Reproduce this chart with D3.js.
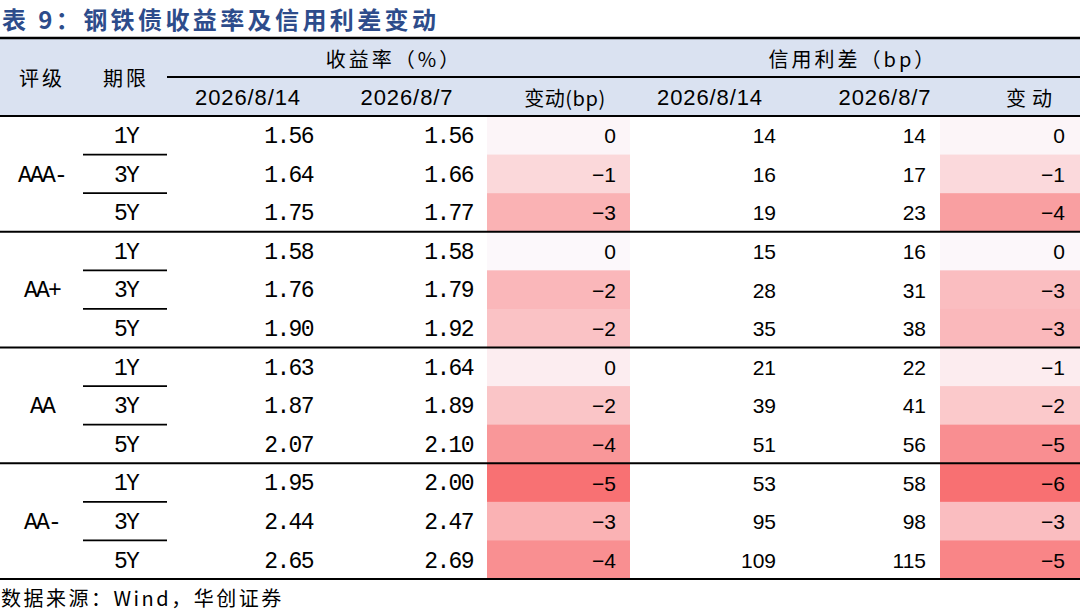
<!DOCTYPE html>
<html>
<head>
<meta charset="utf-8">
<script src="https://cdn.jsdelivr.net/npm/d3@7"></script>
<style>
  html, body { margin: 0; padding: 0; background: #ffffff; }
  svg { display: block; }
</style>
</head>
<body>
<svg id="chart" width="1080" height="612"></svg>
<script>
// ---------------- data ----------------
const title = "表 9：钢铁债收益率及信用利差变动";
const source = "数据来源：Wind，华创证券";
const ratings = ["AAA-", "AA+", "AA", "AA-"];
const tenors = ["1Y", "3Y", "5Y"];
const groupHeaders = ["收益率（%）", "信用利差（bp）"];
const colHeaders = ["2026/8/14", "2026/8/7", "变动(bp)", "2026/8/14", "2026/8/7", "变动"];
const yieldNow  = [1.56, 1.64, 1.75, 1.58, 1.76, 1.90, 1.63, 1.87, 2.07, 1.95, 2.44, 2.65];
const yieldPrev = [1.56, 1.66, 1.77, 1.58, 1.79, 1.92, 1.64, 1.89, 2.10, 2.00, 2.47, 2.69];
const yieldChg  = [0, -1, -3, 0, -2, -2, 0, -2, -4, -5, -3, -4];
// unrounded change estimated from the cell shading
const yieldChgRaw = [-0.1, -1.2, -2.6, 0.0, -2.4, -2.0, -0.4, -1.9, -3.6, -5.0, -2.6, -3.9];
const spreadNow  = [14, 16, 19, 15, 28, 35, 21, 39, 51, 53, 95, 109];
const spreadPrev = [14, 17, 23, 16, 31, 38, 22, 41, 56, 58, 98, 115];
const spreadChg  = [0, -1, -4, 0, -3, -3, -1, -2, -5, -6, -3, -5];
const spreadChgRaw = [-0.2, -1.4, -3.9, -0.1, -2.6, -2.8, -0.6, -2.1, -4.6, -5.9, -2.6, -5.0];

// ---------------- layout ----------------
const svg = d3.select("#chart");
const W = 1080;
const headTop = 38, headMid = 77, headBot = 116, bodyBot = 579;
const cjk = "'Noto Sans CJK SC', 'Noto Sans', sans-serif";
const mono = "'Liberation Mono', 'DejaVu Sans Mono', monospace";
const sans = "'Liberation Sans', Arial, sans-serif";

const rowIdx = d3.range(yieldNow.length);
const y = d3.scaleBand().domain(rowIdx).range([headBot, bodyBot]);
const yc = i => y(i) + y.bandwidth() / 2;

// column edges
const cols = {
  rating: [0, 83], tenor: [83, 167],
  yNow: [167, 327], yPrev: [327, 487], yChg: [487, 630],
  sNow: [630, 790], sPrev: [790, 940], sChg: [940, 1080]
};

const yColor = d3.scaleLinear().domain([d3.min(yieldChgRaw) - 0.3, d3.max(yieldChgRaw) + 0.15]).range(["#F8696B", "#FCFCFF"]);
const sColor = d3.scaleLinear().domain([d3.min(spreadChgRaw) - 0.3, d3.max(spreadChgRaw) + 0.2]).range(["#F8696B", "#FCFCFF"]);

// title
svg.append("text").attr("x", 2).attr("y", 29)
  .attr("font-family", cjk).attr("font-weight", "bold").attr("font-size", 24)
  .attr("letter-spacing", 3.4).attr("fill", "#2D4C8B").text(title);

// header background
svg.append("rect").attr("x", 0).attr("y", headTop).attr("width", W).attr("height", headBot - headTop)
  .attr("fill", "#DAE2F1");

// heatmap cells
const gCells = svg.append("g");
gCells.selectAll("rect.yc").data(rowIdx).join("rect").attr("class", "yc")
  .attr("x", cols.yChg[0]).attr("width", cols.yChg[1] - cols.yChg[0])
  .attr("y", i => y(i)).attr("height", y.bandwidth() + 0.5)
  .attr("fill", i => yColor(yieldChgRaw[i]));
gCells.selectAll("rect.sc").data(rowIdx).join("rect").attr("class", "sc")
  .attr("x", cols.sChg[0]).attr("width", cols.sChg[1] - cols.sChg[0])
  .attr("y", i => y(i)).attr("height", y.bandwidth() + 0.5)
  .attr("fill", i => sColor(spreadChgRaw[i]));

// header texts
const hdr = svg.append("g").attr("fill", "#000");
hdr.append("text").attr("x", 42).attr("y", (headTop + headBot) / 2).attr("text-anchor", "middle")
  .attr("dominant-baseline", "central").attr("font-family", cjk).attr("font-size", 20)
  .attr("letter-spacing", 3).text("评级");
hdr.append("text").attr("x", 126).attr("y", (headTop + headBot) / 2).attr("text-anchor", "middle")
  .attr("dominant-baseline", "central").attr("font-family", cjk).attr("font-size", 20)
  .attr("letter-spacing", 3).text("期限");
hdr.append("text").attr("x", 394).attr("y", (headTop + headMid) / 2 + 1).attr("text-anchor", "middle")
  .attr("dominant-baseline", "central").attr("font-family", cjk).attr("font-size", 20)
  .attr("letter-spacing", 3).text(groupHeaders[0]);
hdr.append("text").attr("x", 853).attr("y", (headTop + headMid) / 2 + 1).attr("text-anchor", "middle")
  .attr("dominant-baseline", "central").attr("font-family", cjk).attr("font-size", 20)
  .attr("letter-spacing", 3).text(groupHeaders[1]);
const hdrCenters = [248, 407, 565, 710, 885, 1032];
colHeaders.forEach((t, k) => {
  const isCjk = /[\u4e00-\u9fff]/.test(t);
  hdr.append("text").attr("x", hdrCenters[k]).attr("y", (headMid + headBot) / 2 + 1)
    .attr("text-anchor", "middle").attr("dominant-baseline", "central")
    .attr("font-family", isCjk ? cjk : sans).attr("font-size", isCjk ? 20 : 22)
    .attr("letter-spacing", isCjk ? (t === "变动" ? 6 : 0.5) : 0.9).text(t);
});

// body texts
const body = svg.append("g").attr("fill", "#000").attr("dominant-baseline", "central");
const monoDy = 1.8;
ratings.forEach((r, g) => {
  body.append("text").attr("x", 42).attr("y", yc(g * 3 + 1) + monoDy).attr("text-anchor", "middle")
    .attr("font-family", mono).attr("font-size", 23).attr("letter-spacing", -1.8).text(r);
});
rowIdx.forEach(i => {
  body.append("text").attr("x", 126).attr("y", yc(i) + monoDy).attr("text-anchor", "middle")
    .attr("font-family", mono).attr("font-size", 23).attr("letter-spacing", -1.8).text(tenors[i % 3]);
});
const f2 = d3.format(".2f");
const neg = v => (v < 0 ? "\u2212" + Math.abs(v) : String(v));
function rightCol(arr, col, fmt, font, size, ls, dy) {
  body.selectAll(null).data(rowIdx).join("text")
    .attr("x", col[1] - 14).attr("y", i => yc(i) + dy).attr("text-anchor", "end")
    .attr("font-family", font).attr("font-size", size).attr("letter-spacing", ls)
    .text(i => fmt(arr[i]));
}
rightCol(yieldNow, cols.yNow, f2, mono, 23, -1.6, monoDy);
rightCol(yieldPrev, cols.yPrev, f2, mono, 23, -1.6, monoDy);
rightCol(yieldChg, cols.yChg, neg, sans, 21, 0, 0.5);
rightCol(spreadNow, cols.sNow, String, sans, 21, 0, 0.5);
rightCol(spreadPrev, cols.sPrev, String, sans, 21, 0, 0.5);
rightCol(spreadChg, [0, cols.sChg[1] - 1], neg, sans, 21, 0, 0.5);

// lines
const lines = svg.append("g").attr("stroke", "#000");
lines.append("line").attr("x1", 0).attr("x2", W).attr("y1", headTop).attr("y2", headTop).attr("stroke-width", 2.5);
lines.append("line").attr("x1", cols.yNow[0]).attr("x2", W).attr("y1", headMid).attr("y2", headMid).attr("stroke-width", 1.8);
lines.append("line").attr("x1", 0).attr("x2", W).attr("y1", headBot).attr("y2", headBot).attr("stroke-width", 2);
d3.range(1, ratings.length + 1).forEach(g => {
  const yy = g === ratings.length ? bodyBot : y(g * 3);
  lines.append("line").attr("x1", 0).attr("x2", W).attr("y1", yy).attr("y2", yy).attr("stroke-width", 2.2);
});
rowIdx.filter(i => i % 3 !== 0).forEach(i => {
  lines.append("line").attr("x1", cols.tenor[0]).attr("x2", cols.tenor[1])
    .attr("y1", y(i)).attr("y2", y(i)).attr("stroke-width", 1.8);
});

// source
svg.append("text").attr("x", 1).attr("y", 597).attr("dominant-baseline", "central")
  .attr("font-family", cjk).attr("font-size", 20).attr("letter-spacing", 2.5)
  .attr("fill", "#000").text(source);
</script>
</body>
</html>
